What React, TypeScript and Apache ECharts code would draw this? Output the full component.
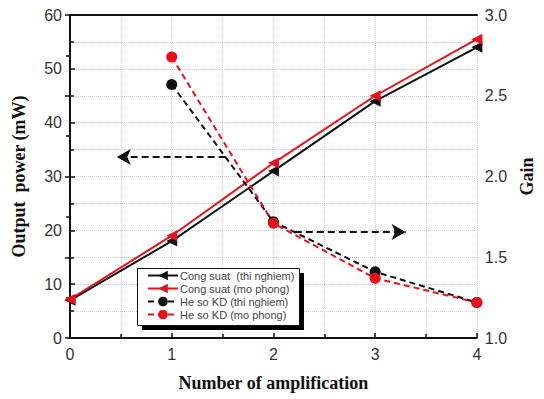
import React, { useEffect, useRef } from "react";
import * as echarts from "echarts";

const xValues = [0, 1, 2, 3, 4];
const powerExp = [7, 18, 31, 44, 54];
const powerSim = [7.2, 19, 32.5, 45, 55.5];
const gainX = [1, 2, 3, 4];
const gainExp = [2.57, 1.72, 1.41, 1.22];
const gainSim = [2.74, 1.71, 1.37, 1.22];
const legendNames = [
  "Cong suat  (thi nghiem)",
  "Cong suat (mo phong)",
  "He so KD (thi nghiem)",
  "He so KD (mo phong)",
];
// arrow annotations in (x, left-axis) data units
const arrowLeft = [[1.53, 33.6], [0.46, 33.6]];
const arrowRight = [[2.21, 19.7], [3.3, 19.7]];

export default function App() {
  const ref = useRef<HTMLDivElement>(null);
  useEffect(() => {
    const chart = echarts.init(ref.current!, undefined, { renderer: "svg" });
    const tickFont = { fontFamily: "Liberation Sans, Arial", fontSize: 16, color: "#333" };
    const nameFont = { fontFamily: "Liberation Serif, Times New Roman", fontSize: 18, fontWeight: "bold" as const, color: "#111" };
    const grid = { type: "dotted" as const, color: "#ccc", width: 1 };
    chart.setOption({
      animation: false,
      backgroundColor: "#fff",
      grid: { left: 70, right: 61, top: 15, bottom: 61, show: false },
      graphic: [
        { type: "rect", z: 3, silent: true, shape: { x: 142, y: 273, width: 162, height: 57 }, style: { fill: "#000" } },
        { type: "rect", z: 3, silent: true, shape: { x: 137.5, y: 268.5, width: 162, height: 57 }, style: { fill: "#fff", stroke: "#111", lineWidth: 1 } },
      ],
      xAxis: [
        {
          type: "value", min: 0, max: 4, interval: 1,
          name: "Number of amplification", nameLocation: "middle", nameGap: 36, nameTextStyle: nameFont,
          axisLine: { lineStyle: { color: "#111", width: 2 } },
          axisTick: { inside: true, length: 5, lineStyle: { color: "#111", width: 1.5 } },
          minorTick: { show: true, splitNumber: 2, length: 4, lineStyle: { color: "#111", width: 1.5 } },
          axisLabel: { ...tickFont, margin: 8 },
          splitLine: { show: true, lineStyle: grid },
          minorSplitLine: { show: true, lineStyle: grid },
        },
        {
          type: "value", min: 0, max: 4, interval: 1, position: "top",
          axisLine: { show: true, lineStyle: { color: "#111", width: 2 } },
          axisTick: { show: false }, axisLabel: { show: false }, splitLine: { show: false },
        },
      ],
      yAxis: [
        {
          type: "value", min: 0, max: 60, interval: 10,
          name: "Output  power (mW)", nameLocation: "middle", nameGap: 42, nameTextStyle: nameFont,
          axisLine: { show: true, lineStyle: { color: "#111", width: 2 } },
          axisTick: { show: true, inside: true, length: 5, lineStyle: { color: "#111", width: 1.5 } },
          minorTick: { show: true, splitNumber: 2, length: 4, lineStyle: { color: "#111", width: 1.5 } },
          axisLabel: { ...tickFont, margin: 8 },
          splitLine: { show: true, lineStyle: grid },
          minorSplitLine: { show: true, lineStyle: grid },
        },
        {
          type: "value", min: 1, max: 3, interval: 0.5, position: "right",
          name: "Gain", nameLocation: "middle", nameGap: 40, nameRotate: 90, nameTextStyle: nameFont,
          axisLine: { show: true, lineStyle: { color: "#111", width: 2 } },
          axisTick: { show: true, inside: true, length: 5, lineStyle: { color: "#111", width: 1.5 } },
          minorTick: { show: true, splitNumber: 2, length: 4, lineStyle: { color: "#111", width: 1.5 } },
          axisLabel: { ...tickFont, margin: 8, formatter: (v: number) => v.toFixed(1) },
          splitLine: { show: false },
        },
      ],
      legend: {
        orient: "vertical", left: 143, top: 270, z: 5,
        data: legendNames,
        itemGap: 2, itemWidth: 30, itemHeight: 12,
        padding: [0, 4, 0, 4],
        textStyle: { fontFamily: "Liberation Sans, Arial", fontSize: 11, color: "#444", padding: [0, 0, 0, -3] },
      },
      series: [
        {
          name: legendNames[0], type: "line", xAxisIndex: 0, yAxisIndex: 0,
          data: xValues.map((x, i) => [x, powerExp[i]]),
          symbol: "triangle", symbolRotate: 90, symbolSize: 11,
          lineStyle: { color: "#111", width: 2 }, itemStyle: { color: "#111" },
          markLine: {
            silent: true, symbol: ["none", "arrow"], symbolSize: [12, 14],
            label: { show: false },
            lineStyle: { color: "#111", width: 2.2, type: [7, 4] },
            data: [
              [{ coord: arrowLeft[0] }, { coord: arrowLeft[1] }],
              [{ coord: arrowRight[0] }, { coord: arrowRight[1] }],
            ],
          },
        },
        {
          name: legendNames[1], type: "line", xAxisIndex: 0, yAxisIndex: 0,
          data: xValues.map((x, i) => [x, powerSim[i]]),
          symbol: "triangle", symbolRotate: 90, symbolSize: 11,
          lineStyle: { color: "#e8101a", width: 2 }, itemStyle: { color: "#e8101a" },
        },
        {
          name: legendNames[2], type: "line", xAxisIndex: 0, yAxisIndex: 1,
          data: gainX.map((x, i) => [x, gainExp[i]]),
          symbol: "circle", symbolSize: 11,
          lineStyle: { color: "#111", width: 2, type: [6, 4] }, itemStyle: { color: "#111" },
        },
        {
          name: legendNames[3], type: "line", xAxisIndex: 0, yAxisIndex: 1,
          data: gainX.map((x, i) => [x, gainSim[i]]),
          symbol: "circle", symbolSize: 11,
          lineStyle: { color: "#e8101a", width: 2, type: [6, 4] }, itemStyle: { color: "#e8101a" },
        },
      ],
    });
    return () => chart.dispose();
  }, []);
  return <div ref={ref} style={{ width: 544, height: 399, position: "absolute", left: 0, top: 0 }} />;
}
